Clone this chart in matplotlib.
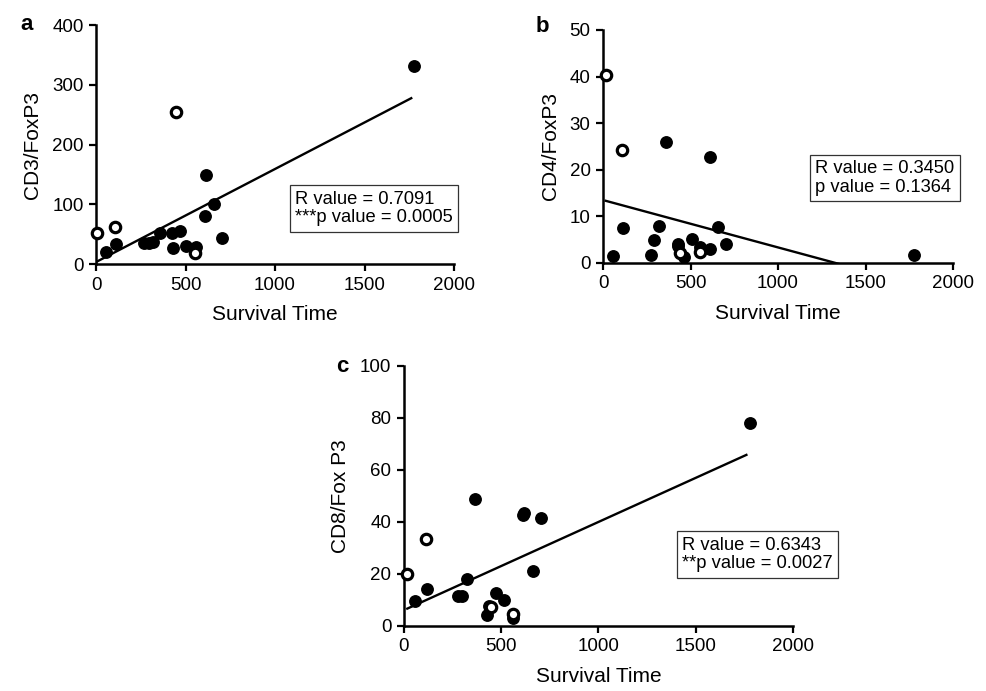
import matplotlib.pyplot as plt

plt.rcParams['font.family'] = ['Liberation Sans', 'DejaVu Sans']

# panel a : CD3/FoxP3
a_fill_x = [54, 110, 270, 294, 318, 359, 422, 430, 467, 504, 560, 606, 612, 657, 701, 1779]
a_fill_y = [20, 33, 35, 36, 37, 52, 52, 26, 55, 31, 29, 81, 149, 101, 43, 331]
a_open_x = [7, 104, 445, 554]
a_open_y = [52, 62, 255, 18]
a_fit = [0.1557, 3.35]  # slope, intercept
a_text = "R value = 0.7091\n***p value = 0.0005"

# panel b : CD4/FoxP3
b_fill_x = [57, 114, 274, 293, 320, 362, 427, 430, 465, 509, 556, 610, 610, 657, 705, 1779]
b_fill_y = [1.4, 7.5, 1.7, 4.9, 7.9, 26, 3.6, 4.0, 1.3, 5.2, 3.4, 3.1, 22.7, 7.8, 4.0, 1.8]
b_open_x = [15, 107, 442, 556]
b_open_y = [40.4, 24.3, 2.1, 2.4]
b_fit = [-0.01016, 13.5]
b_text = "R value = 0.3450\np value = 0.1364"

# panel c : CD8/Fox P3
c_fill_x = [58, 116, 279, 298, 322, 363, 428, 437, 471, 512, 562, 610, 616, 661, 707, 1779]
c_fill_y = [9.7, 14.1, 11.4, 11.4, 18.2, 48.9, 4.1, 7.8, 12.8, 9.9, 2.9, 42.5, 43.5, 21, 41.4, 78]
c_open_x = [17, 111, 445, 562]
c_open_y = [20.1, 33.3, 7.2, 4.7]
c_fit = [0.0339, 6.1]
c_text = "R value = 0.6343\n**p value = 0.0027"


def panel(ax, fx, fy, ox, oy, fit, txt, ylabel, ymax, ystep, letter, txt_pos):
    # fitted line spans the data, ending just short of the last point
    xs = [min(fx + ox), max(fx + ox) - 18]
    ax.plot(xs, [fit[0] * x + fit[1] for x in xs], color='black', lw=1.7, zorder=2)
    ax.scatter(fx, fy, s=68, color='black', zorder=3, clip_on=False)
    ax.scatter(ox, oy, s=56, facecolor='white', edgecolor='black', linewidths=2.3,
               zorder=4, clip_on=False)
    ax.set_xlim(0, 2000)
    ax.set_ylim(0, ymax)
    ax.set_xticks(range(0, 2001, 500))
    ax.set_yticks(range(0, ymax + 1, ystep))
    for s in ['top', 'right']:
        ax.spines[s].set_visible(False)
    for s in ['left', 'bottom']:
        ax.spines[s].set_linewidth(1.8)
    ax.tick_params(width=1.6, length=5, labelsize=13.5, pad=4)
    ax.set_xlabel("Survival Time", fontsize=15, labelpad=8)
    ax.set_ylabel(ylabel, fontsize=15, labelpad=7)
    ax.text(txt_pos[0], txt_pos[1], txt, transform=ax.transAxes, fontsize=13.2,
            va='center', ha='left', linespacing=1.1,
            bbox=dict(boxstyle='square,pad=0.3', facecolor='white',
                      edgecolor='#333333', linewidth=0.9))
    ax.text(letter[1], letter[2], letter[0], transform=ax.figure.transFigure,
            fontsize=16, fontweight='bold', ha='center', va='center')


fig = plt.figure(figsize=(9.87, 6.91), dpi=100)
ax1 = fig.add_axes([0.0973, 0.6179, 0.3627, 0.3459])
ax2 = fig.add_axes([0.611, 0.6194, 0.3546, 0.3372])
ax3 = fig.add_axes([0.4093, 0.0941, 0.394, 0.3763])

panel(ax1, a_fill_x, a_fill_y, a_open_x, a_open_y, a_fit, a_text, "CD3/FoxP3",
      400, 100, ('a', 27 / 987, 1 - 24 / 691), (0.556, 0.232))
panel(ax2, b_fill_x, b_fill_y, b_open_x, b_open_y, b_fit, b_text, "CD4/FoxP3",
      50, 10, ('b', 542 / 987, 1 - 26 / 691), (0.606, 0.365))
panel(ax3, c_fill_x, c_fill_y, c_open_x, c_open_y, c_fit, c_text, "CD8/Fox P3",
      100, 20, ('c', 342 / 987, 1 - 366 / 691), (0.715, 0.275))

fig.savefig("out.png", dpi=100)
